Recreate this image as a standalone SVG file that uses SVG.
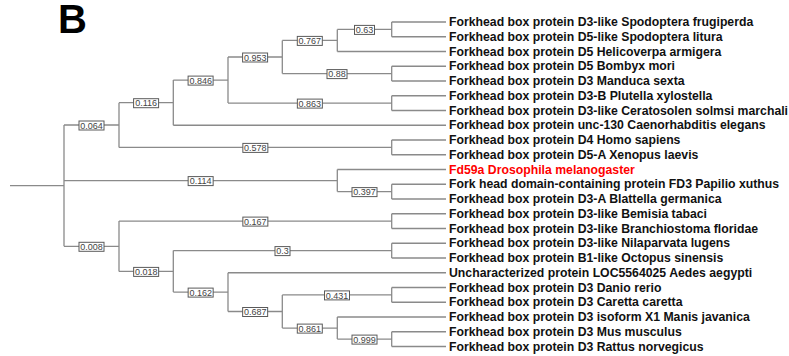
<svg xmlns="http://www.w3.org/2000/svg" width="789" height="356" viewBox="0 0 789 356">
<style>
.e{fill:none;stroke:#8a8a8a;stroke-width:1.3}
.b{fill:#fff;stroke:#5a5a5a;stroke-width:1}
.bl{font-family:"Liberation Sans",Arial,sans-serif;font-size:9px;fill:#444;text-anchor:middle}
.lf{font-family:"Liberation Sans",Arial,sans-serif;font-size:12.25px;font-weight:bold;fill:#111}
.red{fill:#ff0000}
</style>
<rect width="789" height="356" fill="#fff"/>
<text x="58" y="32.7" font-family="Liberation Sans,Arial,sans-serif" font-size="40" font-weight="bold" fill="#000">B</text>
<g id="connectors">
<!-- root -->
<path class="e" d="M10 185.6H64M64 125V246.3"/>
<!-- 0.064 clade -->
<path class="e" d="M64 125H119M119 102.7V147.4"/>
<path class="e" d="M119 102.7H173.3M173.3 80.1V125.25"/>
<path class="e" d="M173.3 80.1H228M228 57V103.1"/>
<path class="e" d="M228 57H282.3M282.3 40.4V73.6"/>
<path class="e" d="M282.3 40.4H337.3M337.3 29.4V51.5"/>
<path class="e" d="M337.3 29.4H391.7M391.7 22V36.75"/>
<path class="e" d="M282.3 73.6H391.7M391.7 66.25V81"/>
<path class="e" d="M228 103.1H391.7M391.7 95.75V110.5"/>
<path class="e" d="M119 147.4H391.7M391.7 140V154.75"/>
<!-- 0.114 clade -->
<path class="e" d="M64 180.6H337.3M337.3 169.5V191.6"/>
<path class="e" d="M337.3 191.6H391.7M391.7 184.25V199"/>
<!-- 0.008 clade -->
<path class="e" d="M64 246.3H119M119 221.1V271.4"/>
<path class="e" d="M119 221.1H391.7M391.7 213.75V228.5"/>
<path class="e" d="M119 271.4H173.3M173.3 250.6V292.1"/>
<path class="e" d="M173.3 250.6H391.7M391.7 243.25V258"/>
<path class="e" d="M173.3 292.1H228M228 272.75V311.5"/>
<path class="e" d="M228 311.5H282.3M282.3 294.9V328.1"/>
<path class="e" d="M282.3 294.9H391.7M391.7 287.5V302.25"/>
<path class="e" d="M282.3 328.1H337.3M337.3 317V339.1"/>
<path class="e" d="M337.3 339.1H391.7M391.7 331.75V346.5"/>
<!-- leaf edges -->
<path class="e" d="M391.7 22H446M391.7 36.75H446M337.3 51.5H446M391.7 66.25H446M391.7 81H446M391.7 95.75H446M391.7 110.5H446M173.3 125.25H446M391.7 140H446M391.7 154.75H446M337.3 169.5H446M391.7 184.25H446M391.7 199H446M391.7 213.75H446M391.7 228.5H446M391.7 243.25H446M391.7 258H446M228 272.75H446M391.7 287.5H446M391.7 302.25H446M337.3 317H446M391.7 331.75H446M391.7 346.5H446"/>
</g>
<g id="n064"><rect class="b" x="79" y="121" width="25" height="9"/><text class="bl" x="91.5" y="128.6">0.064</text></g>
<g id="n116"><rect class="b" x="133.6" y="98.7" width="25" height="9"/><text class="bl" x="146.15" y="106.3">0.116</text></g>
<g id="n846"><rect class="b" x="188.1" y="76.1" width="25" height="9"/><text class="bl" x="200.65" y="83.7">0.846</text></g>
<g id="n953"><rect class="b" x="242.6" y="53" width="25" height="9"/><text class="bl" x="255.15" y="60.6">0.953</text></g>
<g id="n767"><rect class="b" x="297.3" y="36.4" width="25" height="9"/><text class="bl" x="309.8" y="44">0.767</text></g>
<g id="n63"><rect class="b" x="354.5" y="25.4" width="20" height="9"/><text class="bl" x="364.5" y="33">0.63</text></g>
<g id="n88"><rect class="b" x="327" y="69.6" width="20" height="9"/><text class="bl" x="337" y="77.2">0.88</text></g>
<g id="n863"><rect class="b" x="297.35" y="99.1" width="25" height="9"/><text class="bl" x="309.85" y="106.7">0.863</text></g>
<g id="n578"><rect class="b" x="242.85" y="143.4" width="25" height="9"/><text class="bl" x="255.35" y="151">0.578</text></g>
<g id="n114"><rect class="b" x="188.15" y="176.6" width="25" height="9"/><text class="bl" x="200.65" y="184.2">0.114</text></g>
<g id="n397"><rect class="b" x="352" y="187.6" width="25" height="9"/><text class="bl" x="364.5" y="195.2">0.397</text></g>
<g id="n008"><rect class="b" x="79" y="242.3" width="25" height="9"/><text class="bl" x="91.5" y="249.9">0.008</text></g>
<g id="n167"><rect class="b" x="242.85" y="217.1" width="25" height="9"/><text class="bl" x="255.35" y="224.7">0.167</text></g>
<g id="n018"><rect class="b" x="133.65" y="267.4" width="25" height="9"/><text class="bl" x="146.15" y="275">0.018</text></g>
<g id="n3"><rect class="b" x="275" y="246.6" width="15" height="9"/><text class="bl" x="282.5" y="254.2">0.3</text></g>
<g id="n162"><rect class="b" x="188.15" y="288.1" width="25" height="9"/><text class="bl" x="200.65" y="295.7">0.162</text></g>
<g id="n687"><rect class="b" x="242.65" y="307.5" width="25" height="9"/><text class="bl" x="255.15" y="315.1">0.687</text></g>
<g id="n431"><rect class="b" x="324.5" y="290.9" width="25" height="9"/><text class="bl" x="337" y="298.5">0.431</text></g>
<g id="n861"><rect class="b" x="297.3" y="324.1" width="25" height="9"/><text class="bl" x="309.8" y="331.7">0.861</text></g>
<g id="n999"><rect class="b" x="352" y="335.1" width="25" height="9"/><text class="bl" x="364.5" y="342.7">0.999</text></g>
<g id="leaf1"><text class="lf" x="449" y="26.2">Forkhead box protein D3-like Spodoptera frugiperda</text></g>
<g id="leaf2"><text class="lf" x="449" y="40.95">Forkhead box protein D5-like Spodoptera litura</text></g>
<g id="leaf3"><text class="lf" x="449" y="55.7">Forkhead box protein D5 Helicoverpa armigera</text></g>
<g id="leaf4"><text class="lf" x="449" y="70.45">Forkhead box protein D5 Bombyx mori</text></g>
<g id="leaf5"><text class="lf" x="449" y="85.2">Forkhead box protein D3 Manduca sexta</text></g>
<g id="leaf6"><text class="lf" x="449" y="99.95">Forkhead box protein D3-B Plutella xylostella</text></g>
<g id="leaf7"><text class="lf" x="449" y="114.7">Forkhead box protein D3-like Ceratosolen solmsi marchali</text></g>
<g id="leaf8"><text class="lf" x="449" y="129.45">Forkhead box protein unc-130 Caenorhabditis elegans</text></g>
<g id="leaf9"><text class="lf" x="449" y="144.2">Forkhead box protein D4 Homo sapiens</text></g>
<g id="leaf10"><text class="lf" x="449" y="158.95">Forkhead box protein D5-A Xenopus laevis</text></g>
<g id="leaf11"><text class="lf red" x="449" y="173.7">Fd59a Drosophila melanogaster</text></g>
<g id="leaf12"><text class="lf" x="449" y="188.45">Fork head domain-containing protein FD3 Papilio xuthus</text></g>
<g id="leaf13"><text class="lf" x="449" y="203.2">Forkhead box protein D3-A Blattella germanica</text></g>
<g id="leaf14"><text class="lf" x="449" y="217.95">Forkhead box protein D3-like Bemisia tabaci</text></g>
<g id="leaf15"><text class="lf" x="449" y="232.7">Forkhead box protein D3-like Branchiostoma floridae</text></g>
<g id="leaf16"><text class="lf" x="449" y="247.45">Forkhead box protein D3-like Nilaparvata lugens</text></g>
<g id="leaf17"><text class="lf" x="449" y="262.2">Forkhead box protein B1-like Octopus sinensis</text></g>
<g id="leaf18"><text class="lf" x="449" y="276.95">Uncharacterized protein LOC5564025 Aedes aegypti</text></g>
<g id="leaf19"><text class="lf" x="449" y="291.7">Forkhead box protein D3 Danio rerio</text></g>
<g id="leaf20"><text class="lf" x="449" y="306.45">Forkhead box protein D3 Caretta caretta</text></g>
<g id="leaf21"><text class="lf" x="449" y="321.2">Forkhead box protein D3 isoform X1 Manis javanica</text></g>
<g id="leaf22"><text class="lf" x="449" y="335.95">Forkhead box protein D3 Mus musculus</text></g>
<g id="leaf23"><text class="lf" x="449" y="350.7">Forkhead box protein D3 Rattus norvegicus</text></g>
</svg>
